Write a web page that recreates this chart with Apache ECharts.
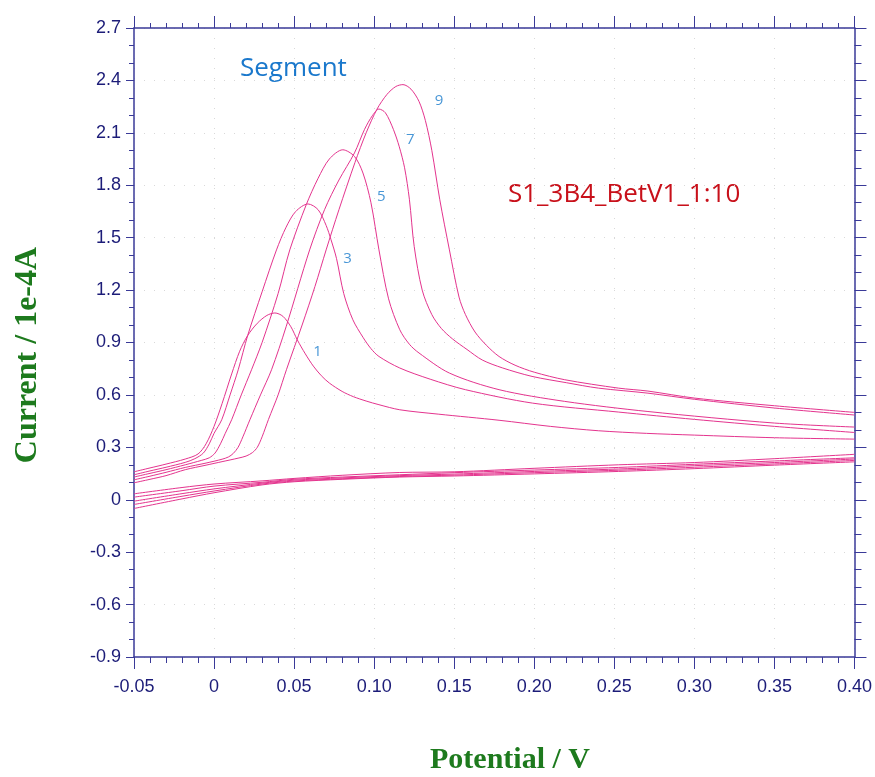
<!DOCTYPE html>
<html>
<head>
<meta charset="utf-8">
<script src="https://cdn.jsdelivr.net/npm/echarts@6/dist/echarts.min.js"></script>
<style>
html,body{margin:0;padding:0;background:#fff;}
#chart{width:875px;height:777px;}
</style>
</head>
<body>
<div id="chart"></div>
<script>
// ---- data (Potential V, Current 1e-4 A) ----
var xTicks = [-0.05, 0, 0.05, 0.10, 0.15, 0.20, 0.25, 0.30, 0.35, 0.40];
var yTicks = [-0.9, -0.6, -0.3, 0, 0.3, 0.6, 0.9, 1.2, 1.5, 1.8, 2.1, 2.4, 2.7];

var seg1 = [[-0.05,0.160],[-0.04,0.182],[-0.03,0.204],[-0.018,0.233],[-0.01,0.262],[-0.005,0.32],[0.0,0.42],[0.005,0.55],[0.011,0.72],[0.016,0.85],[0.021,0.94],[0.027,1.01],[0.033,1.055],[0.038,1.069],[0.043,1.05],[0.048,0.99],[0.052,0.915],[0.057,0.835],[0.062,0.765],[0.067,0.71],[0.072,0.668],[0.080,0.62],[0.087,0.59],[0.095,0.565],[0.103,0.544],[0.116,0.515],[0.14,0.49],[0.178,0.455],[0.21,0.42],[0.24,0.395],[0.27,0.38],[0.30,0.37],[0.35,0.355],[0.40,0.347]];

var seg3 = [[-0.05,0.143],[-0.04,0.165],[-0.03,0.186],[-0.018,0.214],[-0.012,0.235],[-0.0067,0.267],[-0.003,0.32],[0.0,0.38],[0.0048,0.458],[0.010,0.60],[0.0151,0.744],[0.021,0.94],[0.030,1.19],[0.039,1.43],[0.045,1.56],[0.051,1.65],[0.0587,1.693],[0.065,1.66],[0.070,1.57],[0.073,1.49],[0.0765,1.38],[0.081,1.18],[0.0867,1.03],[0.093,0.93],[0.098,0.865],[0.103,0.82],[0.116,0.754],[0.135,0.69],[0.157,0.63],[0.199,0.553],[0.2525,0.502],[0.30,0.46],[0.35,0.42],[0.40,0.385]];

var seg5 = [[-0.05,0.130],[-0.04,0.151],[-0.03,0.172],[-0.018,0.200],[-0.008,0.225],[-0.003,0.24],[0.0006,0.267],[0.004,0.32],[0.007,0.38],[0.011,0.458],[0.017,0.60],[0.0234,0.744],[0.030,0.90],[0.040,1.18],[0.0473,1.43],[0.0576,1.689],[0.065,1.84],[0.072,1.95],[0.0804,2.003],[0.0877,1.965],[0.093,1.87],[0.098,1.70],[0.103,1.43],[0.109,1.15],[0.116,0.973],[0.122,0.89],[0.128,0.84],[0.147,0.725],[0.178,0.63],[0.219,0.563],[0.271,0.505],[0.35,0.439],[0.40,0.416]];

var seg7 = [[-0.05,0.114],[-0.04,0.135],[-0.03,0.157],[-0.018,0.185],[-0.005,0.21],[0.005,0.232],[0.009,0.245],[0.012,0.265],[0.015,0.30],[0.018,0.36],[0.0224,0.458],[0.029,0.60],[0.0359,0.744],[0.045,0.99],[0.0597,1.43],[0.069,1.66],[0.078,1.83],[0.0877,1.985],[0.094,2.12],[0.099,2.2],[0.103,2.236],[0.107,2.215],[0.112,2.12],[0.1157,2.02],[0.119,1.9],[0.122,1.72],[0.125,1.45],[0.130,1.2],[0.136,1.06],[0.142,0.98],[0.149,0.92],[0.158,0.86],[0.1675,0.80],[0.18,0.755],[0.1986,0.706],[0.22,0.67],[0.240,0.639],[0.271,0.61],[0.30,0.575],[0.35,0.525],[0.40,0.485]];

var seg9 = [[-0.05,0.097],[-0.04,0.117],[-0.03,0.138],[-0.018,0.172],[-0.005,0.198],[0.005,0.218],[0.015,0.238],[0.020,0.25],[0.024,0.27],[0.027,0.30],[0.030,0.36],[0.034,0.46],[0.040,0.60],[0.0452,0.744],[0.055,1.0],[0.063,1.22],[0.070,1.43],[0.078,1.66],[0.088,1.93],[0.095,2.1],[0.1018,2.236],[0.108,2.32],[0.1135,2.365],[0.118,2.376],[0.123,2.35],[0.128,2.28],[0.132,2.17],[0.136,2.0],[0.141,1.717],[0.147,1.43],[0.153,1.16],[0.157,1.06],[0.163,0.96],[0.170,0.885],[0.178,0.82],[0.188,0.77],[0.20,0.73],[0.219,0.687],[0.2525,0.639],[0.271,0.622],[0.30,0.582],[0.35,0.538],[0.40,0.50]];

// reverse scans (0.40 -> -0.05)
var rev2 = [[0.40,0.217],[0.35,0.198],[0.30,0.178],[0.2525,0.162],[0.20,0.148],[0.15,0.136],[0.116,0.13],[0.08,0.117],[0.05,0.103],[0.03,0.085],[0.0,0.04],[-0.02,0.005],[-0.05,-0.05]];
var rev4 = [[0.40,0.225],[0.35,0.205],[0.30,0.186],[0.2525,0.169],[0.20,0.155],[0.15,0.141],[0.116,0.133],[0.08,0.12],[0.05,0.107],[0.03,0.09],[0.0,0.05],[-0.02,0.02],[-0.05,-0.027]];
var rev6 = [[0.40,0.233],[0.35,0.213],[0.30,0.195],[0.2525,0.176],[0.20,0.162],[0.15,0.147],[0.116,0.138],[0.08,0.125],[0.05,0.112],[0.03,0.095],[0.0,0.062],[-0.02,0.035],[-0.05,-0.008]];
var rev8 = [[0.40,0.24],[0.35,0.222],[0.30,0.203],[0.2525,0.185],[0.20,0.17],[0.15,0.155],[0.116,0.143],[0.08,0.13],[0.05,0.117],[0.03,0.10],[0.0,0.078],[-0.02,0.052],[-0.05,0.015]];
var rev10 = [[0.40,0.26],[0.35,0.235],[0.30,0.213],[0.2525,0.20],[0.20,0.18],[0.15,0.16],[0.116,0.156],[0.08,0.14],[0.05,0.122],[0.03,0.108],[0.0,0.09],[-0.02,0.07],[-0.05,0.034]];

// segment labels (text, potential, current)
var segLabels = [["1",0.0647,0.847],["3",0.0833,1.38],["5",0.1045,1.734],["7",0.1225,2.06],["9",0.1405,2.284]];

// ---- chart ----
var LINE = '#e4348e';
var AXIS = '#3a3a98';
var TXT = '#1c1c78';

function fmtX(v){ if (Math.abs(v) < 1e-9) return '0'; return v.toFixed(2); }
function fmtY(v){ if (Math.abs(v) < 1e-9) return '0'; return v.toFixed(1); }

var chart = echarts.init(document.getElementById('chart'), null, {renderer:'canvas'});

function curve(name, data){
  return {name:name, type:'line', data:data, smooth:0.3, showSymbol:false, symbol:'none',
          lineStyle:{color:LINE, width:1}, silent:true, z:3, xAxisIndex:0, yAxisIndex:0};
}

var gridSplit = {show:true, lineStyle:{color:'#d9d9d9', type:[1,9], width:1}};

var option = {
  animation:false,
  backgroundColor:'#ffffff',
  grid:{left:134, right:18, top:28, bottom:120, containLabel:false},
  xAxis:[
    {type:'value', position:'bottom', min:xTicks[0], max:xTicks[xTicks.length-1], interval:0.05,
     axisLine:{show:true, onZero:false, lineStyle:{color:AXIS, width:1.5}},
     axisTick:{show:true, inside:false, length:12, lineStyle:{color:AXIS, width:1}},
     minorTick:{show:true, splitNumber:5, length:6, lineStyle:{color:AXIS, width:1}},
     axisLabel:{color:TXT, fontFamily:'Liberation Sans, Arial, sans-serif', fontSize:18, margin:21, formatter:fmtX},
     splitLine:gridSplit},
    {type:'value', position:'top', min:xTicks[0], max:xTicks[xTicks.length-1], interval:0.05,
     axisLine:{show:true, onZero:false, lineStyle:{color:AXIS, width:1.5}},
     axisTick:{show:true, inside:false, length:12, lineStyle:{color:AXIS, width:1}},
     minorTick:{show:true, splitNumber:5, length:5, lineStyle:{color:AXIS, width:1}},
     axisLabel:{show:false}, splitLine:{show:false}}
  ],
  yAxis:[
    {type:'value', position:'left', min:yTicks[0], max:yTicks[yTicks.length-1], interval:0.3,
     axisLine:{show:true, onZero:false, lineStyle:{color:AXIS, width:1.5}},
     axisTick:{show:true, inside:false, length:8, lineStyle:{color:AXIS, width:1}},
     minorTick:{show:true, splitNumber:3, length:5, lineStyle:{color:AXIS, width:1}},
     axisLabel:{color:TXT, fontFamily:'Liberation Sans, Arial, sans-serif', fontSize:18, margin:13, formatter:fmtY},
     splitLine:gridSplit},
    {type:'value', position:'right', min:yTicks[0], max:yTicks[yTicks.length-1], interval:0.3,
     axisLine:{show:true, onZero:false, lineStyle:{color:AXIS, width:1.5}},
     axisTick:{show:true, inside:false, length:12, lineStyle:{color:AXIS, width:1}},
     minorTick:{show:true, splitNumber:3, length:7, lineStyle:{color:AXIS, width:1}},
     axisLabel:{show:false}, splitLine:{show:false}}
  ],
  series:[
    curve('rev2', rev2), curve('rev4', rev4), curve('rev6', rev6), curve('rev8', rev8), curve('rev10', rev10),
    curve('seg1', seg1), curve('seg3', seg3), curve('seg5', seg5), curve('seg7', seg7), curve('seg9', seg9),
    {name:'labels', type:'scatter', symbolSize:0, silent:true, z:5,
     data:segLabels.map(function(d){ return {value:[d[1], d[2]], name:d[0]}; }),
     label:{show:true, position:'inside', formatter:function(p){return p.name;},
            color:'#1a7ccc', fontSize:15, fontFamily:'Open Sans, Noto Sans, sans-serif'}}
  ],
  graphic:[
    {type:'text', x:240, y:69, style:{text:'Segment', fill:'#1a78cc', font:'26px "Open Sans", "Noto Sans", sans-serif', textVerticalAlign:'middle'}},
    {type:'text', x:508, y:195, style:{text:'S1_3B4_BetV1_1:10', fill:'#c8101a', font:'26px "Open Sans", "Noto Sans", sans-serif', textVerticalAlign:'middle'}},
    {type:'text', x:28, y:355, rotation:Math.PI/2,
     style:{text:'Current / 1e-4A', fill:'#1d7a1d', font:'bold 32px "Liberation Serif", "Times New Roman", serif', textAlign:'center', textVerticalAlign:'middle'}},
    {type:'text', x:510, y:760,
     style:{text:'Potential / V', fill:'#1d7a1d', font:'bold 30px "Liberation Serif", "Times New Roman", serif', textAlign:'center', textVerticalAlign:'middle'}}
  ]
};
chart.setOption(option);
</script>
</body>
</html>
